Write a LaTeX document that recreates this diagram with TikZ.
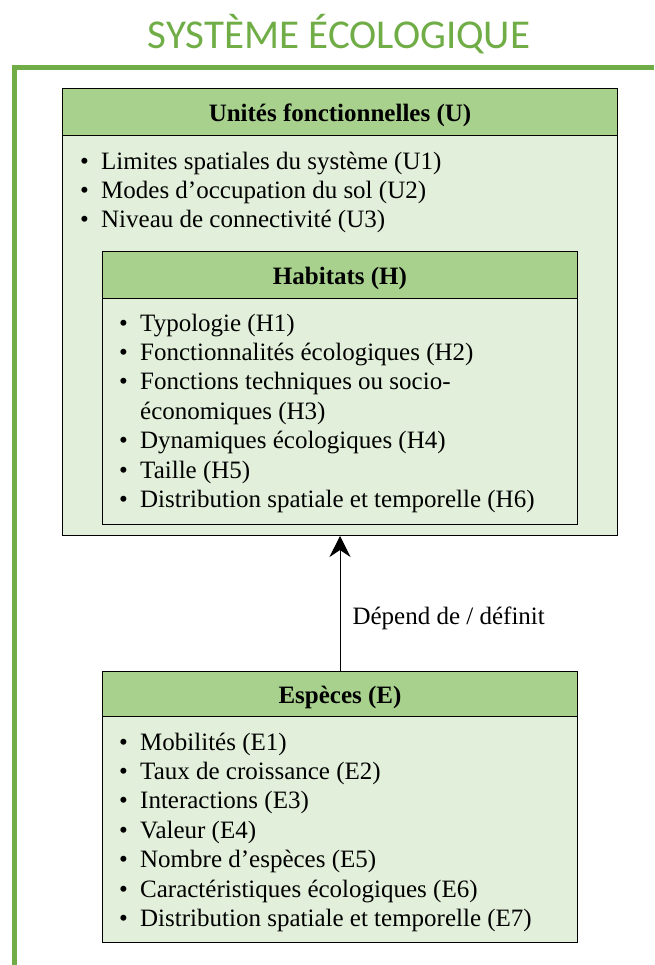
\documentclass[tikz,border=0pt]{standalone}
\usepackage{fontspec}
\setmainfont{Liberation Serif}
\newfontfamily\titrefont{Carlito}
\usepackage{tikz}
\usetikzlibrary{arrows.meta, positioning}

\definecolor{vertfonce}{HTML}{70AD47}
\definecolor{vertentete}{HTML}{A9D18E}
\definecolor{vertclair}{HTML}{E2EFDA}

\newcommand{\puce}{\makebox[21pt][l]{\textbullet}}
\newcommand{\texte}{\fontsize{25}{29.4}\selectfont}

\tikzset{
  entete/.style={draw, fill=vertentete, line width=1pt, inner sep=0pt,
    text height=19pt, text depth=0pt, anchor=north west, font=\texte\bfseries},
  corps/.style={draw, fill=vertclair, line width=1pt, inner sep=0pt, anchor=north west},
  liste/.style={anchor=north west, inner sep=0pt, align=left, font=\texte},
}

\begin{document}
\begin{tikzpicture}[x=1pt, y=-1pt]
\useasboundingbox (0,0) rectangle (654,965);

% --- Title and frame ---
\node[font=\titrefont\fontsize{41}{45}\selectfont, text=vertfonce] (titre) at (339,34) {SYSTÈME ÉCOLOGIQUE};
\draw[vertfonce, line width=4.5pt, line join=miter] (654,67.5) -- (14.5,67.5) -- (14.5,965);

% --- Unites fonctionnelles ---
\node[corps, minimum width=555, minimum height=400] (ucorps) at (62,135) {};
\node[entete, minimum width=555, minimum height=47] (utete) at (62,88) {Unités fonctionnelles (U)};
\node[liste] (uliste) at (80,148.4) {%
  \puce\strut Limites spatiales du système (U1)\\
  \puce Modes d’occupation du sol (U2)\\
  \puce Niveau de connectivité (U3)};

% --- Habitats ---
\node[corps, minimum width=475, minimum height=226] (hcorps) at (102,298) {};
\node[entete, minimum width=475, minimum height=47] (htete) at (102,251) {Habitats (H)};
\node[liste] (hliste) at (119,310.4) {%
  \puce\strut Typologie (H1)\\
  \puce Fonctionnalités écologiques (H2)\\
  \puce Fonctions techniques ou socio-\\
  \hspace*{21pt}économiques (H3)\\
  \puce Dynamiques écologiques (H4)\\
  \puce Taille (H5)\\
  \puce Distribution spatiale et temporelle (H6)};

% --- Especes ---
\node[corps, minimum width=475, minimum height=226] (ecorps) at (102,716) {};
\node[entete, minimum width=475, minimum height=45] (etete) at (102,671) {Espèces (E)};
\node[liste] (eliste) at (119,729.4) {%
  \puce\strut Mobilités (E1)\\
  \puce Taux de croissance (E2)\\
  \puce Interactions (E3)\\
  \puce Valeur (E4)\\
  \puce Nombre d’espèces (E5)\\
  \puce Caractéristiques écologiques (E6)\\
  \puce Distribution spatiale et temporelle (E7)};

% --- Link ---
\draw[line width=0.8pt, -{Stealth[length=21pt, width=21pt, inset=7pt]}] (etete.north) -- (ucorps.south);
\node[font=\texte, anchor=west] (lien) at (349,618) {Dépend de / définit};

\end{tikzpicture}
\end{document}
